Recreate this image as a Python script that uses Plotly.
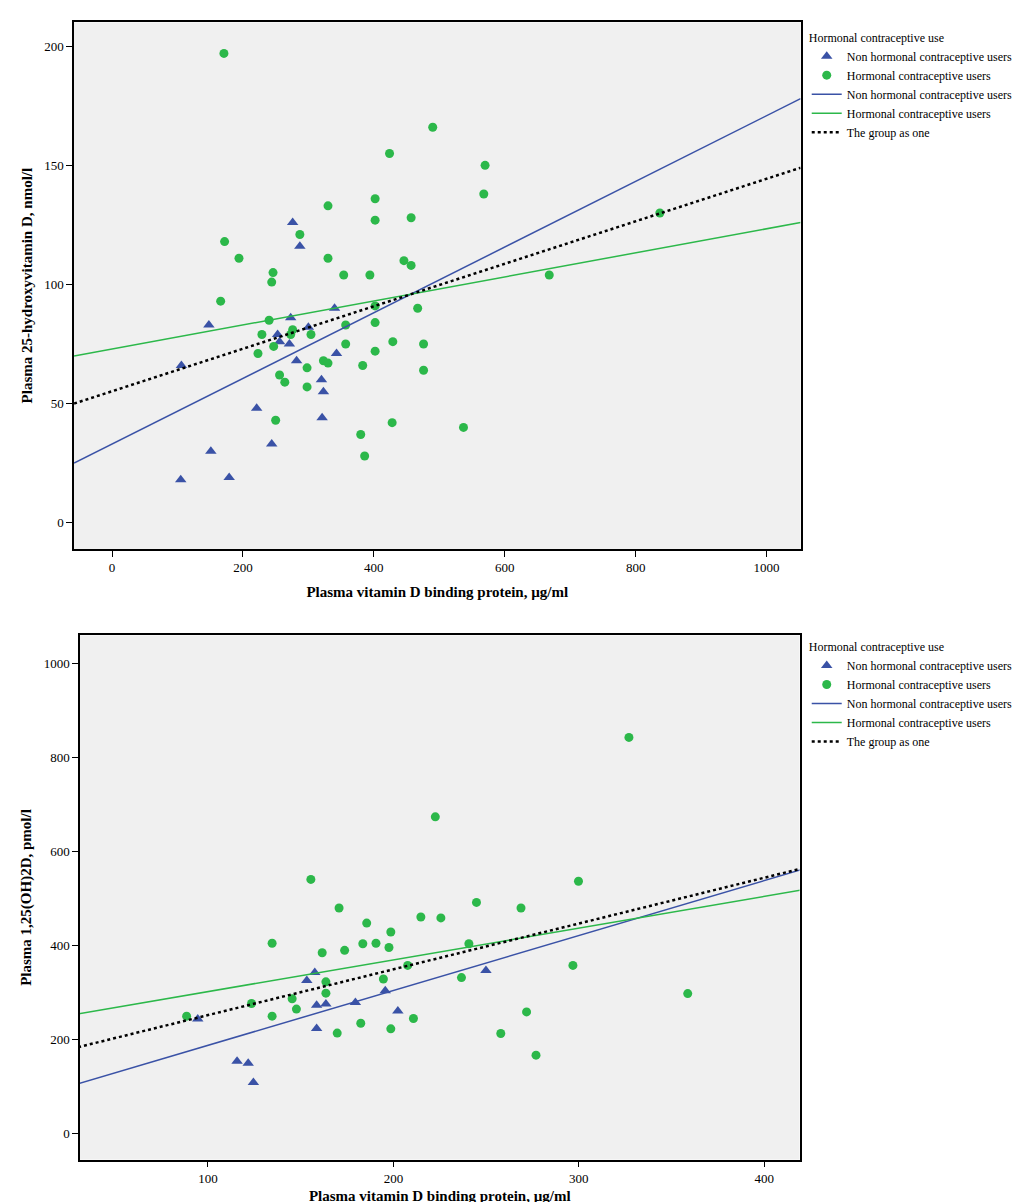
import plotly.graph_objects as go

# top panel: DBP vs 25(OH)D
non_dbp_1 = [105, 151, 179, 106, 148, 221, 244, 253, 256, 271, 273, 276, 287, 282, 300, 320, 323, 321, 340, 343]
non_d25 = [18, 30, 19, 66, 83, 48, 33, 79, 76, 75, 86, 126, 116, 68, 82, 60, 55, 44, 90, 71]
hc_dbp_1 = [171, 172, 166, 194, 246, 244, 240, 229, 223, 247, 256, 264, 250, 276, 273, 287, 330, 304, 298,
            298, 323, 330, 330, 354, 357, 357, 394, 383, 380, 386, 428, 424, 402, 402, 402, 402, 402, 429, 457,
            446, 457, 467, 476, 476, 490, 568, 570, 537, 668, 837]
hc_d25 = [197, 118, 93, 111, 105, 101, 85, 79, 71, 74, 62, 59, 43, 81, 79, 121, 133, 79, 65,
          57, 68, 67, 111, 104, 83, 75, 104, 66, 37, 28, 42, 155, 136, 127, 91, 84, 72, 76, 128,
          110, 108, 90, 75, 64, 166, 138, 150, 40, 104, 130]
fit_x1 = [-58, 1052]
fit_non_1 = [25, 178]
fit_hc_1 = [70, 126]
fit_all_1 = [50, 149]

# bottom panel: DBP vs 1,25(OH)2D
non_dbp_2 = [94.5, 115.7, 121.7, 124.5, 153.3, 157.6, 158.6, 158.6, 163.6, 179.5, 195.6, 202.4, 249.9]
non_d125 = [244, 154, 150, 109, 326, 343, 273, 224, 276, 279, 304, 261, 347]
hc_dbp_2 = [88.5, 123.5, 134.6, 134.6, 145.4, 147.7, 155.5, 161.6, 163.6, 163.6, 169.7, 170.7, 173.7,
            182.4, 183.5, 185.6, 190.6, 194.6, 197.6, 198.6, 198.6, 207.7, 210.8, 214.8, 222.6, 225.6,
            236.7, 240.7, 244.8, 257.9, 268.8, 271.8, 276.9, 296.8, 299.8, 327, 358.7]
hc_d125 = [250, 277, 405, 250, 287, 265, 541, 385, 323, 299, 214, 480, 390,
           235, 404, 448, 405, 329, 396, 429, 223, 358, 245, 461, 674, 459,
           332, 404, 492, 213, 480, 259, 167, 358, 537, 843, 298]
fit_x2 = [30, 421]
fit_non_2 = [106, 563]
fit_hc_2 = [255, 519]
fit_all_2 = [184, 565]

BLUE = "#3a52a6"
GREEN = "#2cb84a"
FONT = "Liberation Serif"

fig = go.Figure()


def add_panel(xa, ya, leg, nx, ny, hx, hy, fx, fn, fh, fa):
    common = dict(xaxis=xa, yaxis=ya, legend=leg)
    fig.add_trace(go.Scatter(x=nx, y=ny, mode="markers", name="Non hormonal contraceptive users",
                             marker=dict(symbol="triangle-up", size=10, color=BLUE), **common))
    fig.add_trace(go.Scatter(x=hx, y=hy, mode="markers", name="Hormonal contraceptive users",
                             marker=dict(symbol="circle", size=9, color=GREEN), **common))
    fig.add_trace(go.Scatter(x=fx, y=fn, mode="lines", name="Non hormonal contraceptive users",
                             line=dict(color=BLUE, width=1.5), **common))
    fig.add_trace(go.Scatter(x=fx, y=fh, mode="lines", name="Hormonal contraceptive users",
                             line=dict(color=GREEN, width=1.5), **common))
    fig.add_trace(go.Scatter(x=fx, y=fa, mode="lines", name="The group as one",
                             line=dict(color="black", width=2.5, dash="dot"), **common))


add_panel("x", "y", "legend", non_dbp_1, non_d25, hc_dbp_1, hc_d25, fit_x1, fit_non_1, fit_hc_1, fit_all_1)
add_panel("x2", "y2", "legend2", non_dbp_2, non_d125, hc_dbp_2, hc_d125, fit_x2, fit_non_2, fit_hc_2, fit_all_2)

axis_common = dict(showgrid=False, zeroline=False, showline=True, linecolor="black", linewidth=1.5,
                   mirror=True, ticks="outside", ticklen=6, tickcolor="black", automargin=False,
                   tickfont=dict(family=FONT, size=13, color="black"))
title_font = dict(family=FONT, size=15, color="black")

legend_common = dict(font=dict(family=FONT, size=12, color="black"), bgcolor="rgba(0,0,0,0)",
                     tracegroupgap=0, itemwidth=30)

fig.update_layout(
    width=1024, height=1202,
    margin=dict(l=0, r=0, t=0, b=0, autoexpand=False),
    paper_bgcolor="white", plot_bgcolor="#f0f0f0",
    xaxis=dict(domain=[0.0645, 0.774], range=[-58, 1052], tickvals=[0, 200, 400, 600, 800, 1000],
               title=dict(text="<b>Plasma vitamin D binding protein, µg/ml</b>", font=title_font, standoff=12),
               anchor="y", **axis_common),
    yaxis=dict(domain=[0.55, 0.988], range=[-11, 210], tickvals=[0, 50, 100, 150, 200],
               title=dict(text="<b>Plasma 25-hydroxyvitamin D, nmol/l</b>", font=title_font, standoff=8),
               anchor="x", **axis_common),
    xaxis2=dict(domain=[0.0703, 0.773], range=[31, 419], tickvals=[100, 200, 300, 400],
                title=dict(text="<b>Plasma vitamin D binding protein, µg/ml</b>", font=title_font, standoff=6),
                anchor="y2", **axis_common),
    yaxis2=dict(domain=[0.042, 0.478], range=[-55, 1060], tickvals=[0, 200, 400, 600, 800, 1000],
                title=dict(text="<b>Plasma 1,25(OH)2D, pmol/l</b>", font=title_font, standoff=8),
                anchor="x2", **axis_common),
    legend=dict(x=0.78, y=0.985, xanchor="left", yanchor="top",
                title=dict(text="Hormonal contraceptive use", font=dict(family=FONT, size=12)),
                **legend_common),
    legend2=dict(x=0.78, y=0.478, xanchor="left", yanchor="top",
                 title=dict(text="Hormonal contraceptive use", font=dict(family=FONT, size=12)),
                 **legend_common),
)

fig.write_html("out.html")
